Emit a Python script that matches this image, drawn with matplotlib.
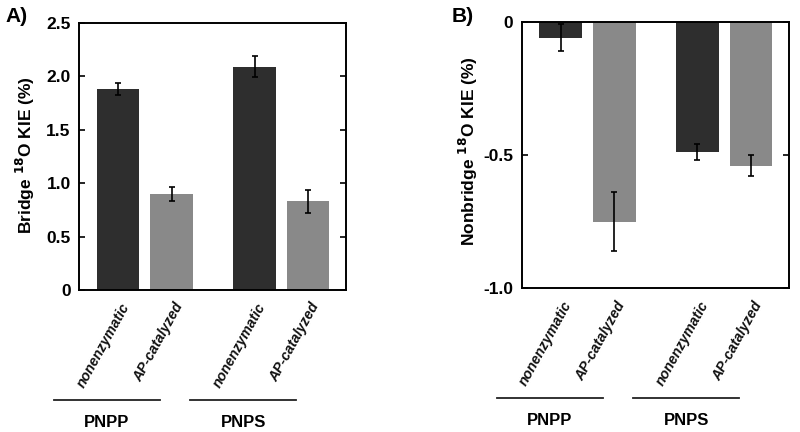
import matplotlib
matplotlib.use("Agg")
import matplotlib.pyplot as plt
from matplotlib.transforms import ScaledTranslation

plt.rcParams['font.family'] = ['Liberation Sans', 'DejaVu Sans']
plt.rcParams['font.weight'] = 'bold'
plt.rcParams['mathtext.default'] = 'bf'

conditions = ["nonenzymatic", "AP-catalyzed", "nonenzymatic", "AP-catalyzed"]
substrates = ["PNPP", "PNPS"]
positions = [0.0, 1.0, 2.55, 3.55]

bridge_kie = [1.88, 0.90, 2.09, 0.83]
bridge_err = [0.055, 0.065, 0.10, 0.105]
nonbridge_kie = [-0.06, -0.75, -0.49, -0.54]
nonbridge_err = [0.05, 0.11, 0.03, 0.04]

a_ticks = [0, 0.5, 1.0, 1.5, 2.0, 2.5]
a_ticklabels = ["0", "0.5", "1.0", "1.5", "2.0", "2.5"]
b_ticks = [0, -0.5, -1.0]
b_ticklabels = ["0", "-0.5", "-1.0"]

bar_colors = ["#2e2e2e", "#898989", "#2e2e2e", "#898989"]

fig = plt.figure(figsize=(8, 4.32), dpi=100)
axA = fig.add_axes([79/800, 142/432, 267/800, 267/432])
axB = fig.add_axes([521.7/800, 143.7/432, 267.3/800, 266.6/432])

def style(ax, vals, errs, ylim, ticks, ticklabels, ylabel, ylab_y):
    ax.bar(positions, vals, width=0.8, color=bar_colors, zorder=2)
    ax.errorbar(positions, vals, yerr=errs, fmt='none', ecolor='black',
                elinewidth=1.2, capsize=2.5, capthick=1.2, zorder=3)
    ax.set_xlim(-0.73, 4.26)
    ax.set_ylim(*ylim)
    ax.set_yticks(ticks)
    ax.set_yticklabels(ticklabels, fontsize=12.5, fontweight='bold')
    ax.set_xticks([])
    ax.tick_params(axis='y', direction='in', length=4, width=1.2, right=True, pad=6)
    for s in ax.spines.values():
        s.set_linewidth(1.4)
    ax.set_ylabel(ylabel, fontsize=12.5, fontweight='bold')
    ax.yaxis.set_label_coords(-0.157, ylab_y)
    tr = ax.get_xaxis_transform()
    off = ScaledTranslation(8/100, -14/100, fig.dpi_scale_trans)
    for p, lab in zip(positions, conditions):
        ax.text(p, 0, lab, transform=tr + off, rotation=61, ha='right', va='center',
                rotation_mode='anchor', fontsize=10.2, fontweight='bold', style='italic',
                color='#111111')
    groups = [(positions[0], positions[1]), (positions[2], positions[3])]
    for (g0, g1), name in zip(groups, substrates):
        c = (g0 + g1) / 2 - 0.71
        ax.plot([c - 0.99, c + 0.99], [-0.412, -0.412], transform=tr, color='#222222',
                lw=1.3, clip_on=False)
        ax.text(c, -0.495, name, transform=tr, ha='center', va='center',
                fontsize=12, fontweight='bold')

style(axA, bridge_kie, bridge_err, (0, 2.5), a_ticks, a_ticklabels,
      r"Bridge $^{18}$O KIE (%)", 0.505)
style(axB, nonbridge_kie, nonbridge_err, (-1.0, 0), b_ticks, b_ticklabels,
      r"Nonbridge $^{18}$O KIE (%)", 0.513)

fig.text(5/800, 1 - 17/432, "A)", fontsize=15, fontweight='bold', va='center', ha='left')
fig.text(452/800, 1 - 17/432, "B)", fontsize=15, fontweight='bold', va='center', ha='left')

fig.savefig("out.png", dpi=100)
